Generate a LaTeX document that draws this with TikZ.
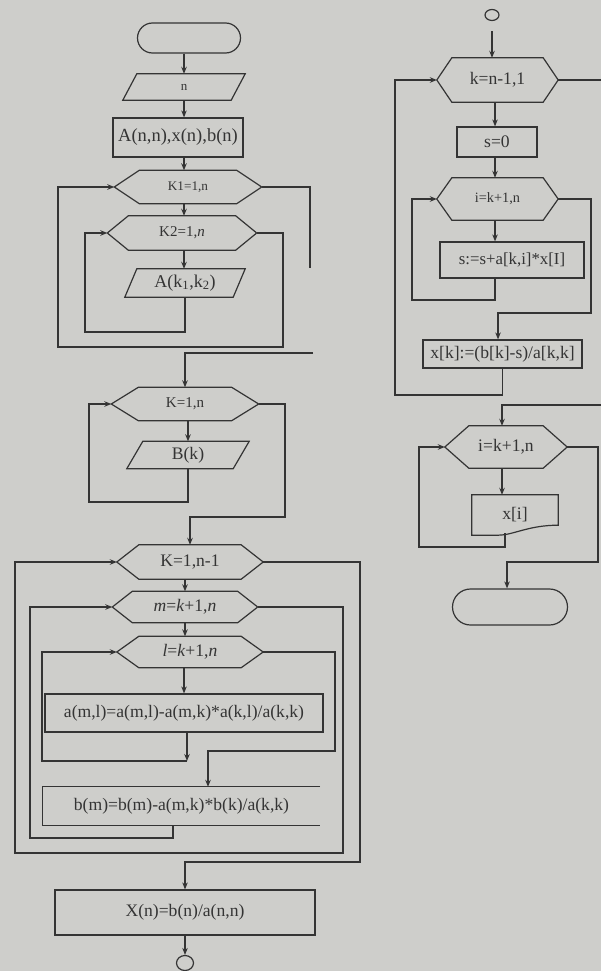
\documentclass[tikz,border=0pt]{standalone}
\usepackage{fontspec}
\setmainfont{Liberation Serif}
\usetikzlibrary{arrows.meta,calc,shapes.geometric}
\definecolor{bg}{RGB}{206,206,203}
\definecolor{ink}{RGB}{52,52,52}
\newcommand\hexdraw[2]{\draw[line] (#1.west) -- ([shift={(#2,0)}]#1.north west) -- ([shift={(-#2,0)}]#1.north east) -- (#1.east) -- ([shift={(-#2,0)}]#1.south east) -- ([shift={(#2,0)}]#1.south west) -- cycle;}
\newcommand\paradraw[2]{\draw[line] ([shift={(-#2,0)}]#1.south west) -- ([shift={(#2,0)}]#1.north west) -- ([shift={(#2,0)}]#1.north east) -- ([shift={(-#2,0)}]#1.south east) -- cycle;}
\newcommand\fs[1]{\fontsize{#1}{#1}\selectfont}
\begin{document}
\begin{tikzpicture}[x=1pt,y=-1pt,
  line/.style={draw=ink,line width=1.2pt},
  arr/.style={line,-{Stealth[length=7pt,width=5.5pt]}},
  box/.style={rectangle,inner sep=0pt,font=\fs{17.6},text=ink},
  proc/.style={box,draw=ink,line width=1.2pt},
  circ/.style={ellipse,draw=ink,line width=1.2pt,inner sep=0pt}]
\fill[bg] (0,0) rectangle (601,971);
\useasboundingbox (0,0) rectangle (601,971);
\coordinate (colA) at (184,0);
\coordinate (colB) at (495,0);
% ---------- left column ----------
\node[proc,rounded corners=15pt,minimum width=103pt,minimum height=30pt] (start) at (189,38) {};
\node[box,minimum width=108pt,minimum height=26pt,font=\fs{13}] (pn) at (184,87) {n};
\paradraw{pn}{7}
\node[proc,minimum width=130pt,minimum height=39pt,font=\fs{18.5}] (rA) at (178,137.5) {A(n,n),x(n),b(n)};
\node[box,minimum width=147pt,minimum height=33pt,font=\fs{13.2}] (hK1) at (188,187) {K1=1,n};
\hexdraw{hK1}{25}
\node[box,minimum width=149pt,minimum height=34pt,font=\fs{15}] (hK2) at (182,233) {K2=1,\textit{n}};
\hexdraw{hK2}{21}
\node[box,minimum width=108pt,minimum height=28pt,font=\fs{18}] (pA) at (185,283) {A(k\textsubscript{1},k\textsubscript{2})};
\paradraw{pA}{6}
\node[box,minimum width=147pt,minimum height=33pt,font=\fs{15}] (hK) at (185,404) {K=1,n};
\hexdraw{hK}{27}
\node[box,minimum width=106pt,minimum height=27pt] (pB) at (188,455) {B(k)};
\paradraw{pB}{8}
\node[box,minimum width=146pt,minimum height=34pt] (hKK) at (190,562) {K=1,n-1};
\hexdraw{hKK}{22}
\node[box,minimum width=145pt,minimum height=31pt] (hm) at (185,607) {\textit{m}=\textit{k}+1,\textit{n}};
\hexdraw{hm}{20}
\node[box,minimum width=146pt,minimum height=31pt] (hl) at (190,652) {\textit{l}=\textit{k}+1,\textit{n}};
\hexdraw{hl}{22}
\node[proc,minimum width=278pt,minimum height=38pt] (ra) at (184,713) {a(m,l)=a(m,l)-a(m,k)*a(k,l)/a(k,k)};
\node[box,minimum width=277pt,minimum height=38pt] (rb) at (181.5,806) {b(m)=b(m)-a(m,k)*b(k)/a(k,k)};
\draw[line] (rb.north east) -- (rb.north west) -- (rb.south west) -- (rb.south east);
\node[proc,minimum width=260pt,minimum height=45pt] (rX) at (185,912.5) {X(n)=b(n)/a(n,n)};
\node[circ,minimum width=17pt,minimum height=15pt] (stopL) at (185,963) {};
% left connectors
\draw[arr] (colA |- start.south) -- (colA |- pn.north);
\draw[arr] (colA |- pn.south) -- (colA |- rA.north);
\draw[arr] (colA |- rA.south) -- (colA |- hK1.north);
\draw[arr] (colA |- hK1.south) -- (colA |- hK2.north);
\draw[arr] (colA |- hK2.south) -- (colA |- pA.north);
\coordinate (c1) at (85,332);
\draw[arr] (pA.south) |- (c1) |- (hK2.west);
\coordinate (c2) at (283,347);
\coordinate (c3) at (58,347);
\draw[arr] (hK2.east) -| (c2) -- (c3) |- (hK1.west);
\coordinate (c4) at (310,268);
\draw[line] (hK1.east) -| (c4);
\coordinate (c5) at (313,353);
\draw[arr] (c5) -| (hK.north);
\draw[arr] (pB.north |- hK.south) -- (pB.north);
\coordinate (c6) at (89,502);
\draw[arr] (pB.south) |- (c6) |- (hK.west);
\coordinate (c7) at (285,517);
\draw[arr] (hK.east) -| (c7) -| (hKK.north);
\draw[arr] (hm.north |- hKK.south) -- (hm.north);
\draw[arr] (hm.south) -- (hm.south |- hl.north);
\draw[arr] (ra.north |- hl.south) -- (ra.north);
\coordinate (c8) at (187,761);
\coordinate (c9) at (42,761);
\draw[arr] (c8 |- ra.south) -- (c8);
\draw[arr] (c8) -- (c9) |- (hl.west);
\coordinate (c10) at (335,751);
\coordinate (c11) at (208,751);
\draw[arr] (hl.east) -| (c10) -- (c11) -- (c11 |- rb.north);
\coordinate (c12) at (173,838);
\coordinate (c13) at (30,838);
\draw[arr] (c12 |- rb.south) -- (c12) -- (c13) |- (hm.west);
\coordinate (c14) at (343,853);
\coordinate (c15) at (15,853);
\draw[arr] (hm.east) -| (c14) -- (c15) |- (hKK.west);
\coordinate (c16) at (360,862);
\draw[arr] (hKK.east) -| (c16) -| (rX.north);
\draw[arr] (rX.south -| stopL) -- (stopL.north);
% ---------- right column ----------
\node[circ,minimum width=14pt,minimum height=11pt] (conn) at (492,15) {};
\node[box,minimum width=121pt,minimum height=44pt] (hk) at (497.5,80) {k=n-1,1};
\hexdraw{hk}{15}
\node[proc,minimum width=80pt,minimum height=30pt] (rs0) at (497,142) {s=0};
\node[box,minimum width=121pt,minimum height=42pt,font=\fs{14.3}] (hi) at (497.5,199) {i=k+1,n};
\hexdraw{hi}{15}
\node[proc,minimum width=144pt,minimum height=36pt,font=\fs{16.8}] (rs) at (512,260) {s:=s+a[k,i]*x[I]};
\node[proc,minimum width=159pt,minimum height=28pt] (rxk) at (502.5,354) {x[k]:=(b[k]-s)/a[k,k]};
\node[box,minimum width=122pt,minimum height=42pt] (hi2) at (506,447) {i=k+1,n};
\hexdraw{hi2}{24}
\node[box,minimum width=86pt,minimum height=40pt] (dx) at (515,515) {x[i]\hspace{36pt}};
\draw[line] (dx.north west) -- (dx.north east) -- ([shift={(0,-10)}]dx.south east)
  .. controls ([shift={(-30,-10)}]dx.south east) and ([shift={(-45,0)}]dx.south east) .. ([shift={(-60,0)}]dx.south east)
  -- (dx.south west) -- cycle;
\node[proc,rounded corners=18pt,minimum width=115pt,minimum height=36pt] (stopR) at (510,607) {};
% right connectors
\draw[arr,shorten <=10pt] (conn.south) -- (conn.south |- hk.north);
\draw[arr] (colB |- hk.south) -- (colB |- rs0.north);
\draw[arr] (colB |- rs0.south) -- (colB |- hi.north);
\draw[arr] (colB |- hi.south) -- (colB |- rs.north);
\coordinate (c17) at (412,300);
\draw[arr] (colB |- rs.south) |- (c17) |- (hi.west);
\coordinate (c18) at (591,313);
\coordinate (c19) at (498,313);
\draw[arr] (hi.east) -| (c18) -- (c19) -- (c19 |- rxk.north);
\coordinate (c20) at (395,395);
\draw[arr] (rxk.south) |- (c20) |- (hk.west);
\coordinate (e1) at (601,80);
\draw[line] (hk.east) -- (e1);
\coordinate (e2) at (601,405);
\coordinate (c21) at (502,405);
\draw[arr] (e2) -- (c21) -- (c21 |- hi2.north);
\draw[arr] (c21 |- hi2.south) -- (c21 |- dx.north);
\coordinate (c22) at (419,547);
\draw[arr] ([shift={(-10,-2)}]dx.south) |- (c22) |- (hi2.west);
\coordinate (c23) at (598,562);
\coordinate (c24) at (507,562);
\draw[arr] (hi2.east) -| (c23) -- (c24) -- (c24 |- stopR.north);
\end{tikzpicture}
\end{document}
